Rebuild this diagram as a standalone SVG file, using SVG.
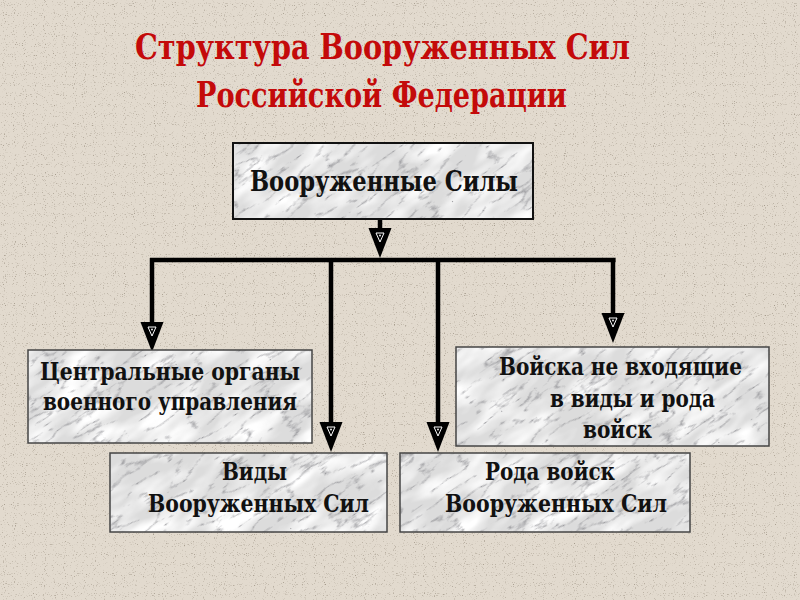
<svg xmlns="http://www.w3.org/2000/svg" width="800" height="600" viewBox="0 0 800 600">
<defs>
<style>
.title{font-family:'DejaVu Serif Condensed','DejaVu Serif','Liberation Serif',serif;font-stretch:condensed;font-weight:bold;font-size:36px;fill:#c40a0a;text-anchor:middle}
.lbl{font-family:'DejaVu Serif Condensed','DejaVu Serif','Liberation Serif',serif;font-stretch:condensed;font-weight:bold;font-size:24px;fill:#111;text-anchor:middle}
.top{font-size:27px}
.box{fill:url(#marble);stroke:#444;stroke-width:1.5}
.conn{stroke:#000;stroke-width:4.5;fill:none}
</style>
<filter id="marbleF" x="0" y="0" width="100%" height="100%" color-interpolation-filters="sRGB">
<feTurbulence type="fractalNoise" baseFrequency="0.018 0.045" numOctaves="3" seed="11" result="b"/>
<feColorMatrix in="b" type="matrix" values="0 0 0 0 1  0 0 0 0 1  0 0 0 0 1  2.6 0 0 0 -1.0" result="wh"/>
<feTurbulence type="turbulence" baseFrequency="0.025 0.08" numOctaves="5" seed="7" result="n"/>
<feColorMatrix in="n" type="matrix" values="0 0 0 0 0.5  0 0 0 0 0.5  0 0 0 0 0.52  -3.6 0 0 0 0.75" result="v"/>
<feFlood flood-color="#dcdcdc" result="g"/>
<feMerge><feMergeNode in="g"/><feMergeNode in="wh"/><feMergeNode in="v"/></feMerge>
</filter>
<pattern id="marble" patternUnits="userSpaceOnUse" x="0" y="0" width="800" height="600">
<g transform="rotate(-35 400 300)"><rect x="-300" y="-400" width="1400" height="1400" filter="url(#marbleF)"/></g>
</pattern>
<filter id="speck" x="0" y="0" width="100%" height="100%" color-interpolation-filters="sRGB">
<feTurbulence type="fractalNoise" baseFrequency="0.9" numOctaves="1" seed="2" result="n"/>
<feColorMatrix in="n" type="matrix" values="0 0 0 0 0.62  0 0 0 0 0.58  0 0 0 0 0.52  0 -4 0 0 1.55" result="s"/>
<feFlood flood-color="#e2dace" result="b"/>
<feMerge><feMergeNode in="b"/><feMergeNode in="s"/></feMerge>
</filter>
<marker id="arr" markerUnits="userSpaceOnUse" markerWidth="32" markerHeight="24" viewBox="0 -12 32 24" refX="0" refY="0" orient="auto">
<path d="M0,-11.5 L0,11.5 L30,0 Z" fill="#000"/>
<path d="M5,-4 L5,4 L14,0 Z" fill="none" stroke="#fff" stroke-width="1"/>
<circle cx="7.5" cy="0" r="0.9" fill="#fff"/>
</marker>
</defs>
<rect width="800" height="600" filter="url(#speck)"/>
<g id="title">
<text class="title" x="382.5" y="59" textLength="495" lengthAdjust="spacingAndGlyphs">Структура Вооруженных Сил</text>
<text class="title" x="381.5" y="107" textLength="371" lengthAdjust="spacingAndGlyphs">Российской Федерации</text>
</g>
<g id="connectors">
<line class="conn" x1="380" y1="219" x2="380" y2="228" marker-end="url(#arr)"/>
<line class="conn" x1="150" y1="260" x2="615.5" y2="260"/>
<line class="conn" x1="152" y1="258" x2="152" y2="322" marker-end="url(#arr)"/>
<line class="conn" x1="331" y1="258" x2="331" y2="422" marker-end="url(#arr)"/>
<line class="conn" x1="438" y1="258" x2="438" y2="422" marker-end="url(#arr)"/>
<line class="conn" x1="613" y1="258" x2="613" y2="313" marker-end="url(#arr)"/>
</g>
<g id="node-armed-forces">
<rect class="box" x="233" y="143" width="300" height="76" style="stroke:#111;stroke-width:2"/>
<text class="lbl top" x="384" y="191" textLength="268" lengthAdjust="spacingAndGlyphs">Вооруженные Силы</text>
</g>
<g id="node-central">
<rect class="box" x="28" y="350" width="284" height="93"/>
<text class="lbl" x="170" y="380" textLength="260" lengthAdjust="spacingAndGlyphs">Центральные органы</text>
<text class="lbl" x="170" y="410" textLength="254" lengthAdjust="spacingAndGlyphs">военного управления</text>
</g>
<g id="node-other-troops">
<rect class="box" x="456" y="347" width="313" height="99"/>
<text class="lbl" x="620.5" y="375" textLength="243" lengthAdjust="spacingAndGlyphs">Войска не входящие</text>
<text class="lbl" x="632.5" y="407" textLength="165" lengthAdjust="spacingAndGlyphs">в виды и рода</text>
<text class="lbl" x="617.5" y="438" textLength="69" lengthAdjust="spacingAndGlyphs">войск</text>
</g>
<g id="node-branches">
<rect class="box" x="110" y="453" width="277" height="79"/>
<text class="lbl" x="254.5" y="480" textLength="65" lengthAdjust="spacingAndGlyphs">Виды</text>
<text class="lbl" x="258.5" y="512" textLength="221" lengthAdjust="spacingAndGlyphs">Вооруженных Сил</text>
</g>
<g id="node-arms">
<rect class="box" x="400" y="453" width="290" height="79"/>
<text class="lbl" x="550" y="480" textLength="130" lengthAdjust="spacingAndGlyphs">Рода войск</text>
<text class="lbl" x="556" y="512" textLength="222" lengthAdjust="spacingAndGlyphs">Вооруженных Сил</text>
</g>
</svg>
